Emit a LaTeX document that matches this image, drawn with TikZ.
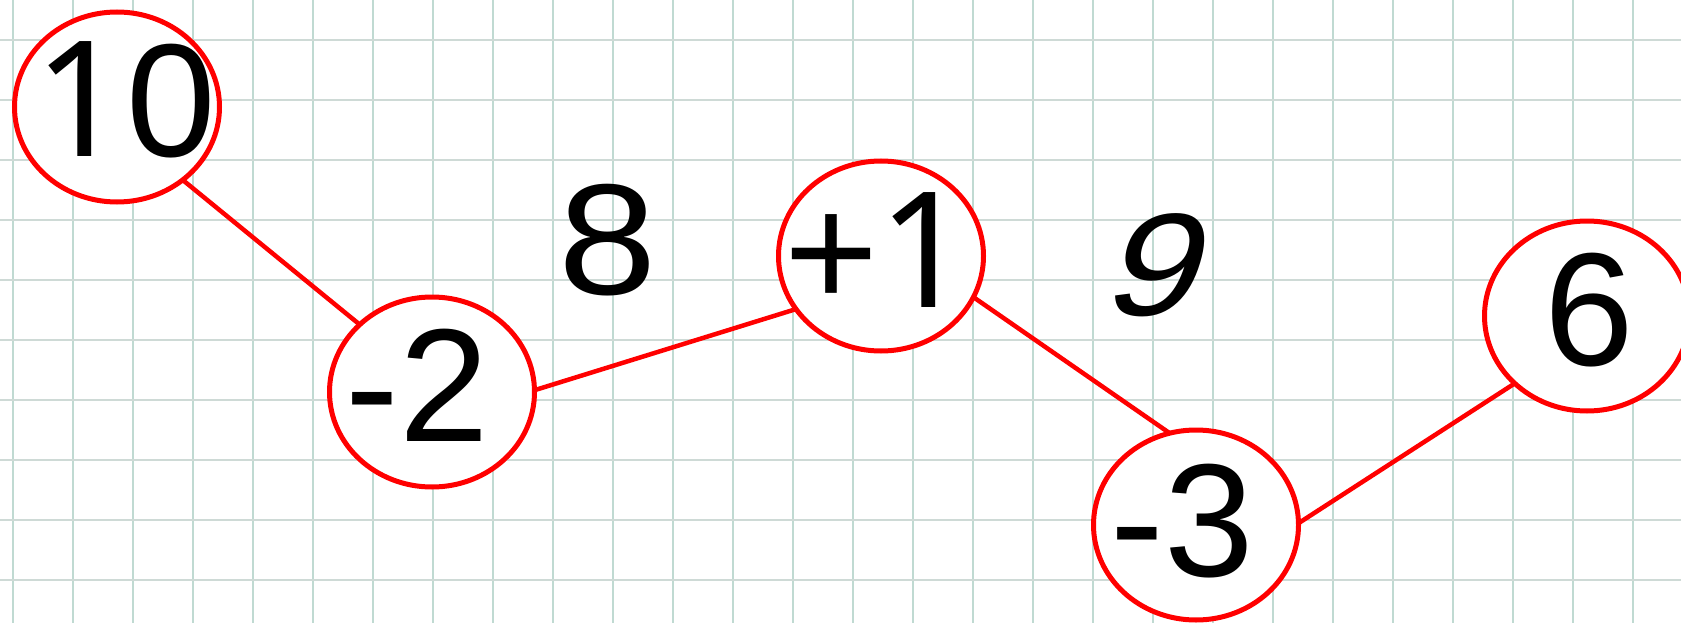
\documentclass[tikz,border=0pt]{standalone}
\usepackage{fontspec}
\setmainfont{Liberation Sans}
\newfontfamily\onefont{Noto Sans}
\newfontfamily\widefont[FakeStretch=1.12]{Liberation Sans}
\newfontfamily\slantfont[FakeSlant=0.3,FakeStretch=1.15]{Liberation Sans}
\usetikzlibrary{shapes.geometric}
\definecolor{gridv}{RGB}{192,218,210}
\definecolor{gridh}{RGB}{206,218,214}
\definecolor{nodered}{RGB}{255,0,0}
\newcommand{\one}{{\onefont 1}}
\begin{document}
\begin{tikzpicture}[x=1pt,y=-1pt,
  oval/.style={ellipse, draw=nodered, line width=5pt, fill=white,
    minimum width=205pt, minimum height=190pt, inner sep=0pt, outer sep=0pt},
  num/.style={font=\fontsize{161}{161}\selectfont, inner sep=0pt, text=black},
  link/.style={draw=nodered, line width=4.5pt},
  gv/.style={draw=gridv, line width=1.6pt},
  gh/.style={draw=gridh, line width=1.6pt}]
\fill[white] (0,0) rectangle (1681,623);
\useasboundingbox (0,0) rectangle (1681,623);
\foreach \x in {13,73,...,1680} \draw[gv] (\x,0) -- (\x,623);
\foreach \y in {40,100,...,623} \draw[gh] (0,\y) -- (1681,\y);
% ovals
\node[oval] (n10) at (117,107) {};
\node[oval] (m2) at (432,392) {};
\node[oval] (p1) at (881,256) {};
\node[oval] (m3) at (1196,525) {};
\node[oval] (n6) at (1587,316) {};
% texts
\node[num] (t10) at (125,100) {\one0};
\node[num] (tm2) at (417,385) {-2};
\node[num] (tp1) at (878,250) {+\one};
\node[num] (tm3) at (1182,521) {-3};
\node[num] (t6) at (1589,310) {6};
\node[inner sep=0pt, font=\fontsize{158}{158}\widefont] (l8) at (608,240) {8};
\node[inner sep=0pt, font=\fontsize{146}{146}\slantfont] (l9) at (1146,265) {9};
% connectors
\draw[link] (n10.-48) -- (m2.137);
\draw[link] (m2.1) -- (p1.212);
\draw[link] (p1.-24) -- (m3.106);
\draw[link] (m3.1) -- (n6.223);
\end{tikzpicture}
\end{document}
